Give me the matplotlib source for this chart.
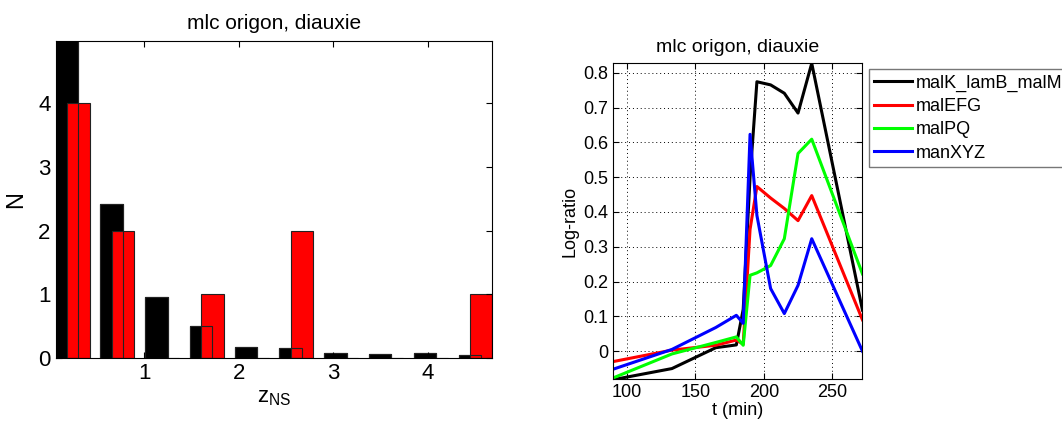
import numpy as np
import matplotlib
matplotlib.use('Agg')
import matplotlib.pyplot as plt

plt.rcParams['font.family'] = ['Liberation Sans', 'DejaVu Sans']

# histogram data (left panel)
bin_centers = [0.183, 0.657, 1.130, 1.604, 2.077, 2.551, 3.024, 3.498, 3.971, 4.445]
n_black = [5.2, 2.42, 0.96, 0.5, 0.175, 0.155, 0.08, 0.065, 0.08, 0.045]
n_red = [4, 2, 0, 1, 0, 2, 0, 0, 0, 1]

# time course data (right panel)
t_min = [90, 133, 165, 180, 185, 190, 195, 205, 215, 225, 235, 272]
malK_lamB_malM = [-0.082, -0.05, 0.01, 0.018, 0.12, 0.5, 0.774, 0.765, 0.741, 0.684, 0.827, 0.118]
malEFG = [-0.03, 0.003, 0.017, 0.032, 0.02, 0.35, 0.473, 0.44, 0.41, 0.375, 0.447, 0.09]
malPQ = [-0.077, -0.008, 0.025, 0.041, 0.017, 0.218, 0.225, 0.246, 0.323, 0.568, 0.609, 0.222]
manXYZ = [-0.052, 0.005, 0.068, 0.103, 0.08, 0.623, 0.39, 0.18, 0.108, 0.189, 0.323, 0.0]
gene_names = ['malK_lamB_malM', 'malEFG', 'malPQ', 'manXYZ']

fig = plt.figure(figsize=(10.62, 4.26), dpi=100)

# ---- left: overlapping histograms
ax1 = fig.add_axes([0.0523, 0.1596, 0.4113, 0.743])
w = 0.237
xb = np.array(bin_centers)
ax1.bar(xb, n_black, width=w, color='black', edgecolor='#222222', linewidth=0.8)
ax1.bar(xb + 0.122, n_red, width=w, color='red', edgecolor='#222222', linewidth=0.8)
# matlab draws edges on top of all fills
ax1.bar(xb, n_black, width=w, fill=False, edgecolor='#222222', linewidth=0.8)
ax1.set_xlim(0.064, 4.684)
ax1.set_ylim(0, 4.97)
ax1.set_xticks([1, 2, 3, 4])
ax1.set_yticks([0, 1, 2, 3, 4])
ax1.tick_params(direction='in', top=True, right=True, labelsize=16, length=4)
ax1.set_title('mlc origon, diauxie', fontsize=15, pad=9)
ax1.set_xlabel(r'$\mathregular{z_{NS}}$', fontsize=16, labelpad=2)
ax1.set_ylabel('N', fontsize=17, labelpad=8)

# ---- right: log-ratio time courses
ax2 = fig.add_axes([0.5772, 0.1103, 0.2349, 0.7411])
colors = ['black', 'red', '#00ff00', 'blue']
for ys, c, name in zip([malK_lamB_malM, malEFG, malPQ, manXYZ], colors, gene_names):
    ax2.plot(t_min, ys, color=c, linewidth=2.2, label=name)
ax2.set_xlim(90, 272)
ax2.set_ylim(-0.08, 0.827)
ax2.set_xticks([100, 150, 200, 250])
ax2.set_yticks(np.arange(0, 0.81, 0.1))
ax2.set_yticklabels(['0', '0.1', '0.2', '0.3', '0.4', '0.5', '0.6', '0.7', '0.8'])
ax2.grid(True, linestyle=(0, (1, 3)), color='black', linewidth=0.7)
ax2.tick_params(direction='in', top=True, right=True, labelsize=13, length=4)
ax2.set_title('mlc origon, diauxie', fontsize=14, pad=8)
ax2.set_xlabel('t (min)', fontsize=13, labelpad=1)
ax2.set_ylabel('Log-ratio', fontsize=13, labelpad=3)
leg = ax2.legend(loc='upper left', bbox_to_anchor=(869 / 1062, 1 - 69 / 426),
                 bbox_transform=fig.transFigure, borderaxespad=0, fontsize=13,
                 fancybox=False, edgecolor='#555555', handlelength=2.1,
                 handletextpad=0.2, labelspacing=0.35, borderpad=0.3)
leg.get_frame().set_linewidth(1.0)

fig.savefig('out.png', dpi=100)
